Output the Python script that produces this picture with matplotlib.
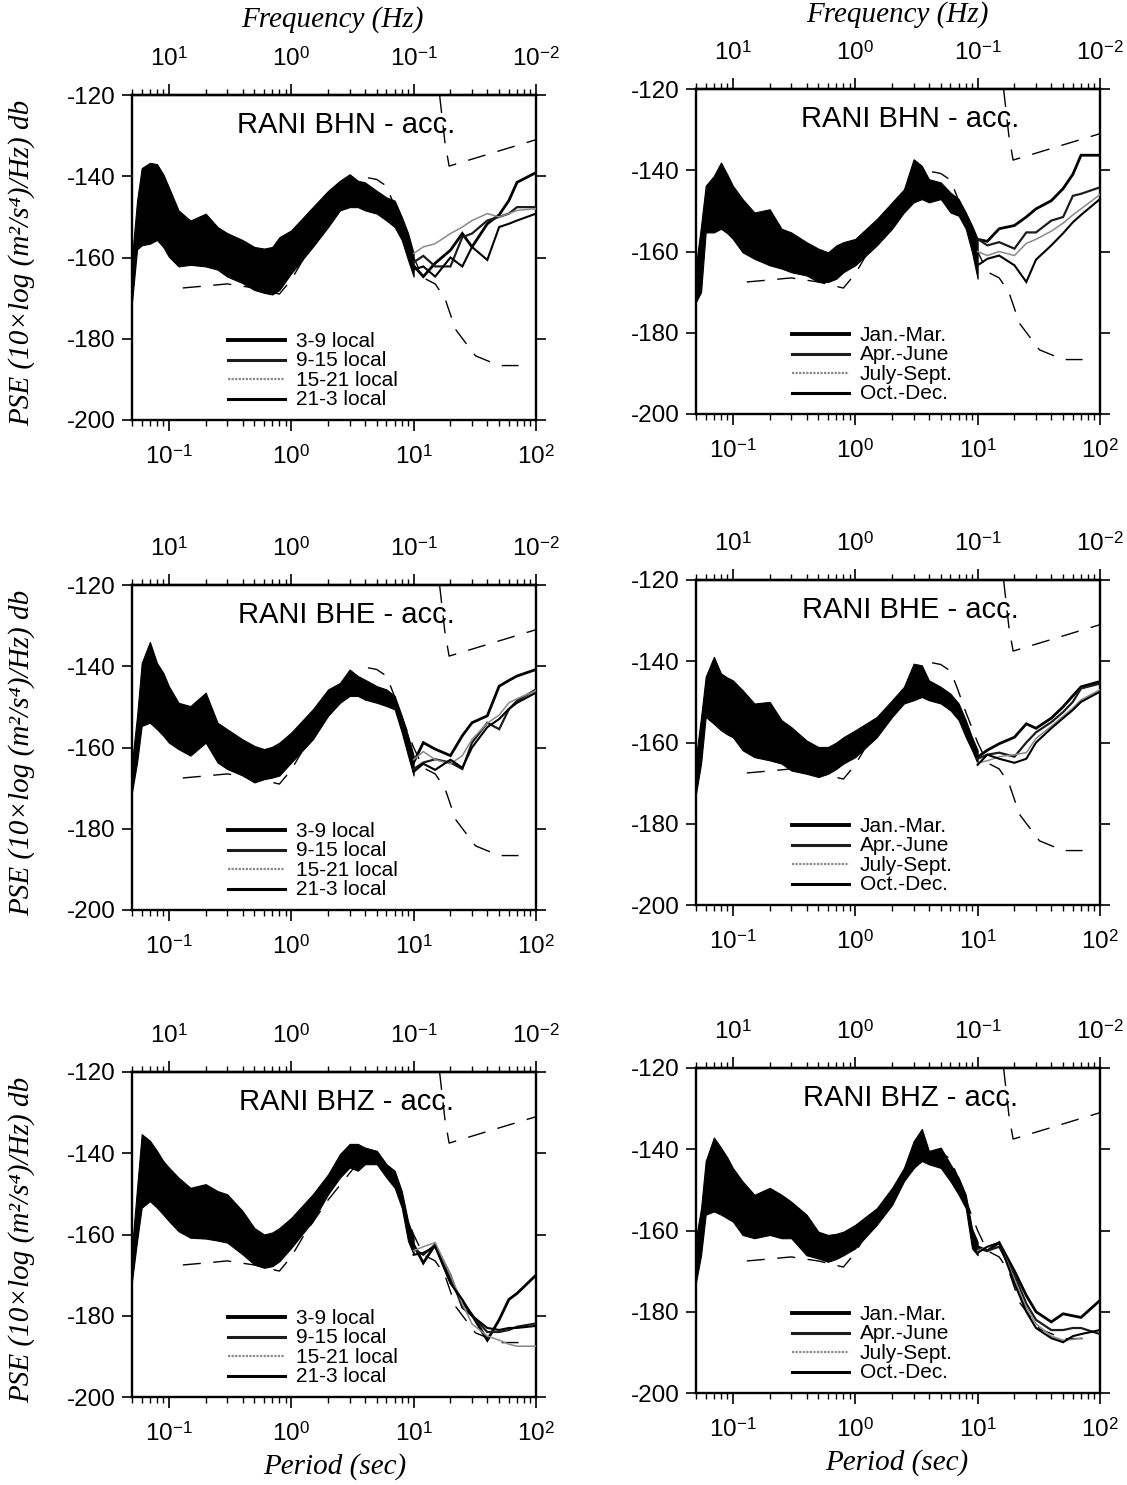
import numpy as np
import matplotlib
matplotlib.use('Agg')
import matplotlib.pyplot as plt
from matplotlib.ticker import LogLocator, NullFormatter

plt.rcParams['font.family'] = ['Liberation Sans', 'DejaVu Sans']
plt.rcParams['mathtext.fontset'] = 'custom'
plt.rcParams['mathtext.rm'] = 'Liberation Sans'
plt.rcParams['mathtext.it'] = 'Liberation Serif:italic'
plt.rcParams['axes.unicode_minus'] = False

# short period part: spread of the spectra (top / bottom of the noisy band)
BAND_PERIOD = [0.05, 0.055, 0.06, 0.07, 0.08, 0.09, 0.1, 0.12, 0.15, 0.2, 0.25, 0.3, 0.4, 0.5,
               0.6, 0.7, 0.8, 1.0, 1.5, 2.0, 2.5, 3.0, 3.5, 4.0, 5.0, 6.0, 7.0, 8.0, 9.0, 10.0]

BHN_DAY_UPPER = [-160, -146, -138, -136.7, -137, -139.5, -142.7, -148.4, -150.9, -149.2, -152.5, -154, -155.7, -157.4,
                 -157.8, -157.4, -155, -153.3, -147.6, -143.6, -141.1, -139.5, -141.1, -141.5, -143.6, -145.2, -146, -150, -154, -159]
BHN_DAY_LOWER = [-171, -158, -157, -156.6, -155.7, -157.4, -159.8, -162.2, -161.8, -162.2, -163, -164.7, -166.3, -168,
                 -168.7, -169.1, -168, -163.9, -157.4, -152.5, -148.4, -147.6, -147.6, -148.4, -149.2, -150.9, -152.5, -155.7, -160.6, -164.7]
BHN_SEA_UPPER = [-163.4, -153.6, -143.8, -141.4, -138.1, -141, -143.8, -147.1, -150.4, -149.6, -154.4, -155.3, -157.7, -159.3,
                 -160.2, -158.5, -157.7, -156.9, -152, -147.9, -144.7, -137.3, -138.9, -142.2, -143, -145.5, -147.1, -150.4, -153.6, -156.9]
BHN_SEA_LOWER = [-172.4, -170, -155.3, -155.3, -154.4, -155.5, -156.9, -160.2, -161.8, -163.4, -164.2, -165.1, -165.9, -167.5,
                 -167.5, -166.7, -165.1, -163.4, -158.5, -154.4, -150.4, -147.9, -147.1, -147.9, -147.1, -150.4, -151.2, -154.4, -160.2, -166.7]
BHE_DAY_UPPER = [-163.7, -152.2, -139.2, -134, -139.2, -141.6, -144.9, -149, -149.8, -146.5, -153.9, -155.5, -158, -159.6,
                 -160.4, -159.8, -158.8, -156.3, -150.6, -145.7, -144.1, -140.8, -142.4, -143.3, -144.9, -145.7, -147.3, -152.2, -157.1, -162]
BHE_DAY_LOWER = [-171, -163.7, -154.7, -153.9, -155.5, -157.1, -158.8, -160.4, -162, -158.8, -163.7, -165.3, -166.9, -168.6,
                 -167.8, -167.4, -166.9, -163.7, -158, -152.2, -149, -147.3, -147.3, -148.2, -149, -149.8, -150.6, -156.3, -162, -166.9]
BHE_SEA_UPPER = [-163.6, -153.7, -143.8, -138.9, -143, -144, -144.7, -147.1, -150.4, -150, -154.5, -156.2, -159.5, -161.1,
                 -161.1, -160, -158.7, -157, -153.7, -149.6, -146.3, -140.6, -141, -144.7, -146.3, -148, -150.4, -154.5, -158.7, -161.9]
BHE_SEA_LOWER = [-172.6, -165.2, -153.7, -155.4, -157, -158, -158.7, -161.9, -163.6, -164.4, -165.2, -166.9, -167.7, -168.5,
                 -167.7, -166.5, -165.2, -163.6, -158.7, -153.7, -150.4, -149.6, -148.8, -149.6, -150.4, -152.1, -154.5, -158.7, -161.9, -165.2]
BHZ_DAY_UPPER = [-163.3, -148.5, -135.3, -136.9, -139.4, -141.9, -143.5, -146, -148.5, -147.6, -149.3, -150.1, -154.2, -158.4,
                 -160, -159.5, -158.4, -155.9, -150.1, -145.2, -140.2, -137.7, -137.7, -138.6, -139.4, -142.7, -144.3, -149.3, -156.7, -160.8]
BHZ_DAY_LOWER = [-171.5, -161.6, -153.4, -151.8, -153.4, -155.1, -156.7, -159.2, -160.8, -161, -161.5, -162, -164.9, -167.4,
                 -168.2, -167.8, -166.6, -163.3, -156.7, -150.1, -146, -143.5, -144.3, -142.7, -142.7, -146, -148.5, -153.4, -161.6, -164.9]
BHZ_SEA_UPPER = [-161.9, -154.5, -142.9, -137.1, -139.6, -142, -144.6, -147.9, -151.2, -149.5, -151.2, -152.9, -156.1, -160.3,
                 -161.1, -160.8, -160.3, -158.6, -154.5, -149.5, -144.6, -138, -135, -140.4, -139.6, -143.7, -147, -151.2, -159.5, -162.8]
BHZ_SEA_LOWER = [-172.7, -166.1, -156.1, -155.3, -156.1, -157, -157.8, -161.1, -161.9, -161.1, -161.9, -161.9, -166.1, -166.9,
                 -167.7, -167, -166.1, -164.4, -158.6, -153.7, -147.9, -144.6, -142.9, -143.7, -144.6, -147.9, -151.2, -154.5, -164.4, -166.1]

# long period part: the four averaged spectra separate
LONG_PERIOD = [10, 12, 15, 20, 25, 30, 40, 50, 60, 70, 100]

BHN_DAY_LONG = [
    [-162, -164.7, -161.4, -158.2, -154.1, -157.4, -151.7, -149.5, -146, -141.5, -139.1],
    [-161.2, -159.6, -162.2, -162.2, -155, -154.1, -150.9, -150, -149.2, -147.6, -147.6],
    [-159, -157.4, -156.6, -154.1, -152.5, -150.9, -149.2, -150, -149.2, -148.4, -148],
    [-163, -162.2, -164.7, -160, -162.2, -157.4, -160.6, -152.5, -151.7, -150.9, -149.2],
]
BHN_SEA_LONG = [
    [-157, -157.5, -154.4, -153.6, -151.5, -149.5, -147.5, -144.5, -141, -136.3, -136.3],
    [-156.9, -158.5, -157.7, -159.3, -155.3, -155.3, -152.4, -151.5, -146.3, -145.8, -144.2],
    [-160, -161, -160, -161, -158, -157, -155, -153, -151, -149.5, -146],
    [-163.4, -161.8, -161, -163.4, -167.5, -162, -158.5, -155.5, -152.8, -151, -147.1],
]
BHE_DAY_LONG = [
    [-163.7, -158.8, -160.4, -162, -157.1, -153.9, -152.2, -144.9, -143.5, -142.4, -140.8],
    [-165.3, -163.7, -162.9, -163.7, -165.3, -158.8, -153.9, -155.5, -150.6, -148.5, -145.7],
    [-163, -161, -163, -164, -162, -158, -154, -152, -149, -148, -146],
    [-166, -164, -165.5, -163, -165, -160, -155, -153, -150.5, -149, -146.5],
]
BHE_SEA_LONG = [
    [-163.6, -161.9, -160.3, -158.7, -155.4, -156.5, -154, -151.2, -148.5, -146.3, -145],
    [-164, -163, -162.5, -163.5, -160, -157.5, -155, -152.5, -150, -146.7, -145.5],
    [-165, -164.5, -163.5, -163, -162.5, -159, -156, -153.5, -151.5, -149.5, -147],
    [-165.5, -163, -164, -165, -164, -160, -156.5, -154, -152, -150, -147.5],
]
BHZ_DAY_LONG = [
    [-162.5, -167, -162.5, -171.5, -176.5, -179.8, -186, -181, -176, -174.5, -170],
    [-163.5, -165, -162.5, -170, -178, -180, -184, -184, -183.5, -182.7, -181.9],
    [-164, -163, -162, -170, -177, -182, -185, -186, -187, -187.5, -187.5],
    [-165, -164.5, -163, -172, -176, -180, -183, -183.5, -183, -183, -182.5],
]
BHZ_SEA_LONG = [
    [-164, -165, -163, -170, -176, -180, -182.5, -180.5, -181, -181.4, -177.2],
    [-164.5, -165, -164, -171, -178, -182, -184.5, -184.5, -184, -184, -185.5],
    [-165, -164, -163, -172, -179, -183, -186, -187, -186.8, -186.5, np.nan],
    [-165.5, -164, -163, -173, -180, -184, -186.5, -187.5, -186, -185.5, -184.5],
]

# reference noise models (dashed)
LOW_MODEL_PERIOD = [0.13, 0.2, 0.3, 0.5, 0.8, 1.0, 1.28, 2.0, 3.5, 4.3, 5.0, 6.0, 6.8, 8.0,
                    10, 12, 15, 18, 22, 32, 50, 72]
LOW_MODEL_DB = [-167.5, -167.0, -166.5, -167.5, -169.0, -165.5, -160.0, -151.5, -142.4, -140.4, -140.8, -142.4, -146.5, -152.5,
                -160.0, -165.0, -166.5, -170.0, -177.7, -184.2, -186.6, -186.6]
HIGH_MODEL_PERIOD = [16.3, 18, 19.5, 100]
HIGH_MODEL_DB = [-120, -131.5, -137.5, -131]

DIURNAL_LABELS = ['3-9 local', '9-15 local', '15-21 local', '21-3 local']
SEASON_LABELS = ['Jan.-Mar.', 'Apr.-June', 'July-Sept.', 'Oct.-Dec.']
TITLES = ['RANI BHN - acc.', 'RANI BHE - acc.', 'RANI BHZ - acc.']
PERIOD_TICKS = [0.1, 1, 10, 100]
PERIOD_LABELS = [r'$10^{-1}$', r'$10^{0}$', r'$10^{1}$', r'$10^{2}$']
FREQ_LABELS = [r'$10^{1}$', r'$10^{0}$', r'$10^{-1}$', r'$10^{-2}$']
DB_TICKS = [-200, -180, -160, -140, -120]

LINE_STYLES = [dict(color='black', lw=2.0), dict(color='#1c1c1c', lw=1.6),
               dict(color='#8a8a8a', lw=1.1), dict(color='black', lw=1.5)]
KEY_STYLES = [dict(color='black', lw=2.8), dict(color='#1c1c1c', lw=2.2),
              dict(color='#8a8a8a', lw=1.6, ls=(0, (1, 0.6))), dict(color='black', lw=2.2)]

W, H = 1127, 1485
AX_W, AX_H = 404, 325
TICK_FS = 17.5
SERIF_IT = dict(family=['Liberation Serif', 'DejaVu Serif'], style='italic')


def setup_axes(ax):
    ax.set_xscale('log')
    ax.set_xlim(0.05, 100)
    ax.set_ylim(-200, -120)
    ax.set_yticks(DB_TICKS)
    ax.set_yticklabels([str(v) for v in DB_TICKS])
    ax.set_xticks(PERIOD_TICKS)
    ax.set_xticklabels(PERIOD_LABELS)
    ax.xaxis.set_minor_locator(LogLocator(base=10, subs=np.arange(2, 10)))
    ax.xaxis.set_minor_formatter(NullFormatter())
    ax.tick_params(axis='y', direction='out', length=7, width=1.2, right=True,
                   labelsize=TICK_FS, pad=5)
    ax.tick_params(axis='x', which='major', direction='out', length=8, width=1.2,
                   labelsize=TICK_FS, pad=10)
    ax.tick_params(axis='x', which='minor', direction='out', length=4, width=1.0)
    for sp in ax.spines.values():
        sp.set_linewidth(1.7)

    top = ax.secondary_xaxis('top')
    top.set_xticks(PERIOD_TICKS)
    top.set_xticklabels(FREQ_LABELS)
    top.xaxis.set_minor_locator(LogLocator(base=10, subs=np.arange(2, 10)))
    top.xaxis.set_minor_formatter(NullFormatter())
    top.tick_params(axis='x', which='major', direction='out', length=8, width=1.2,
                    labelsize=TICK_FS, pad=9)
    top.tick_params(axis='x', which='minor', direction='out', length=4, width=1.0)
    top.spines['top'].set_linewidth(1.7)


def draw_panel(ax, title, upper, lower, long_curves, labels):
    setup_axes(ax)
    ax.plot(LOW_MODEL_PERIOD, LOW_MODEL_DB, color='black', lw=1.0, dashes=(13, 9), zorder=1)
    ax.plot(HIGH_MODEL_PERIOD, HIGH_MODEL_DB, color='black', lw=1.0, dashes=(13, 9), zorder=1)
    ax.fill_between(BAND_PERIOD, lower, upper, color='black', lw=0.8, zorder=2)
    for vals, st in zip(long_curves, LINE_STYLES):
        ax.plot(LONG_PERIOD, vals, zorder=3, solid_joinstyle='miter', **st)

    ax.text(0.53, 0.883, title, transform=ax.transAxes, ha='center', va='baseline',
            fontsize=21, zorder=5)
    for i, (lab, st) in enumerate(zip(labels, KEY_STYLES)):
        y = 0.245 - i * 0.06
        ax.plot([0.238, 0.378], [y, y], transform=ax.transAxes, **st)
        ax.text(0.405, y - 0.02, lab, transform=ax.transAxes, ha='left',
                va='baseline', fontsize=15)


fig = plt.figure(figsize=(W / 100, H / 100), dpi=100)

left_tops = [95, 585, 1072]
right_tops = [89, 580, 1068]
day_data = [(BHN_DAY_UPPER, BHN_DAY_LOWER, BHN_DAY_LONG),
            (BHE_DAY_UPPER, BHE_DAY_LOWER, BHE_DAY_LONG),
            (BHZ_DAY_UPPER, BHZ_DAY_LOWER, BHZ_DAY_LONG)]
sea_data = [(BHN_SEA_UPPER, BHN_SEA_LOWER, BHN_SEA_LONG),
            (BHE_SEA_UPPER, BHE_SEA_LOWER, BHE_SEA_LONG),
            (BHZ_SEA_UPPER, BHZ_SEA_LOWER, BHZ_SEA_LONG)]

ylab = 'PSE (10\u00d7log (m\u00b2/s\u2074)/Hz) db'

for row in range(3):
    axl = fig.add_axes([132 / W, 1 - (left_tops[row] + AX_H) / H, AX_W / W, AX_H / H])
    draw_panel(axl, TITLES[row], *day_data[row], DIURNAL_LABELS)
    axr = fig.add_axes([696 / W, 1 - (right_tops[row] + AX_H) / H, AX_W / W, AX_H / H])
    draw_panel(axr, TITLES[row], *sea_data[row], SEASON_LABELS)
    fig.text(22 / W, 1 - (left_tops[row] + AX_H / 2 + 5) / H, ylab, rotation=90,
             ha='center', va='center', fontsize=21, **SERIF_IT)

fig.text(332 / W, 1 - 20 / H, 'Frequency (Hz)', ha='center', va='center', fontsize=21, **SERIF_IT)
fig.text(897 / W, 1 - 15 / H, 'Frequency (Hz)', ha='center', va='center', fontsize=21, **SERIF_IT)
fig.text(335 / W, 1 - 1467 / H, 'Period (sec)', ha='center', va='center', fontsize=21, **SERIF_IT)
fig.text(897 / W, 1 - 1463 / H, 'Period (sec)', ha='center', va='center', fontsize=21, **SERIF_IT)

fig.savefig('out.png', dpi=100)
